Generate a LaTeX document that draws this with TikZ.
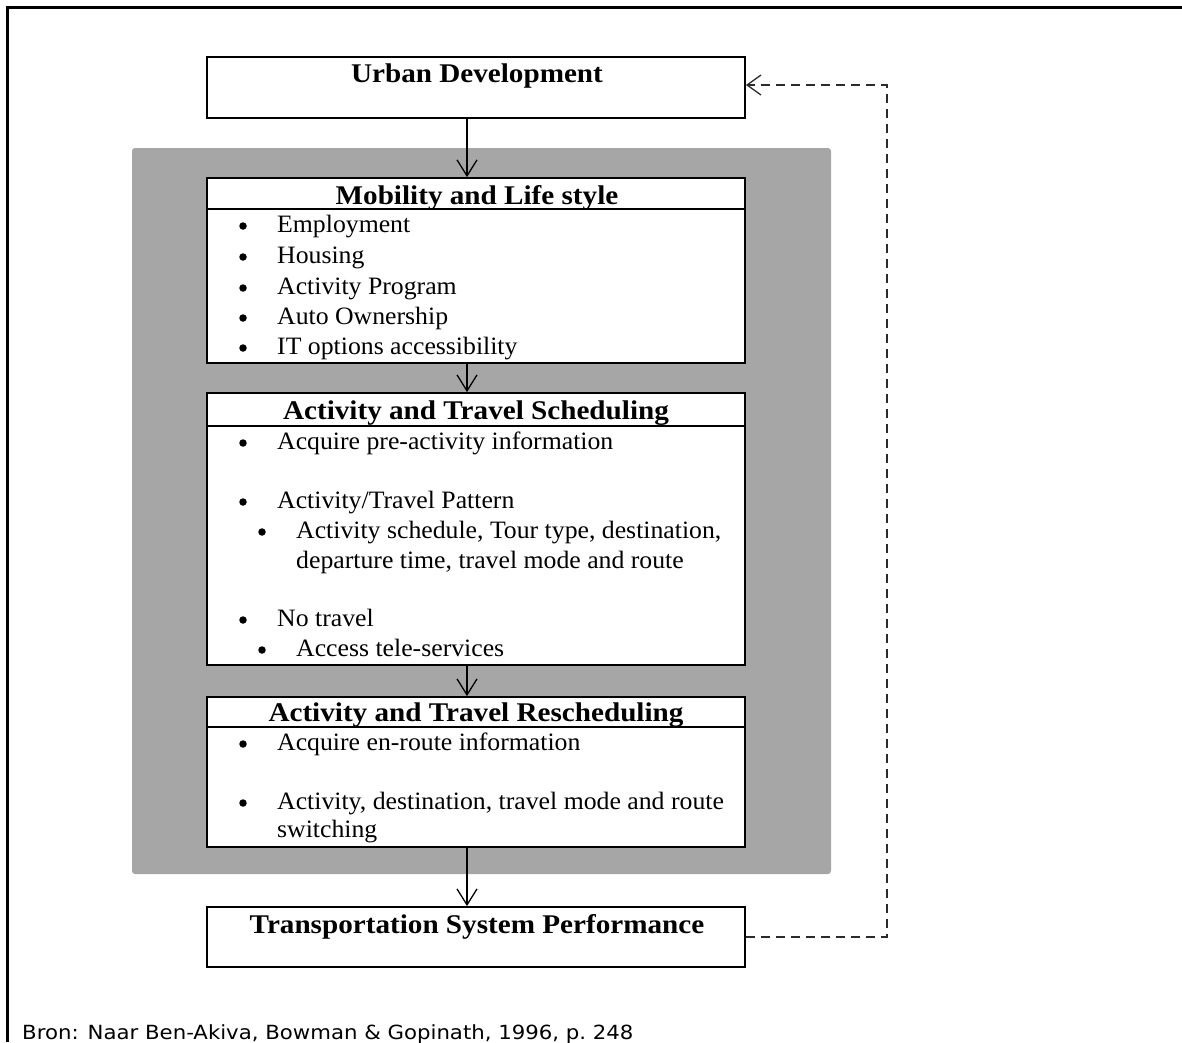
\documentclass[tikz,border=0pt]{standalone}
\usepackage{fontspec}
\setmainfont{Liberation Serif}
\newfontfamily\headfont[FakeStretch=1.08]{Liberation Serif}
\newfontfamily\bodyfont[FakeStretch=1.03]{Liberation Serif}
\newfontfamily\capfont[FakeStretch=1.09]{DejaVu Sans}
\usetikzlibrary{arrows.meta,calc}
\definecolor{panelgray}{HTML}{A6A6A6}
\definecolor{dashgray}{HTML}{2B2B2B}
\begin{document}
\begin{tikzpicture}[x=1pt,y=-1pt,
  box/.style={draw=black, line width=1.8pt, fill=white, inner sep=0pt, minimum width=538pt},
  title/.style={anchor=base, font=\headfont\fontsize{27}{27}\selectfont\bfseries, inner sep=0pt},
  item/.style={anchor=base west, font=\bodyfont\fontsize{25}{25}\selectfont, inner sep=0pt},
  dot/.style={circle, fill=black, inner sep=0pt, minimum size=7.5pt},
  flow/.style={line width=1.3pt, -{Straight Barb[length=16pt,width=20pt,line width=1.3pt]}},
  feedback/.style={line width=1.7pt, draw=dashgray, dash pattern=on 9pt off 6pt,
    -{Straight Barb[length=14pt,width=20pt,line width=1.3pt]}}
]
\useasboundingbox (0,0) rectangle (1182,1042);

% frame edges
\draw[line width=3pt] (7,1042) -- (7,7) -- (1182,7);

% grey panel holding the three stages
\fill[panelgray, rounded corners=3pt] (132,148) rectangle (831,874);

% boxes
\node[box, minimum height=61pt]  (urban)  at (476,87.5) {};
\node[box, minimum height=185pt] (mob)    at (476,270.5) {};
\node[box, minimum height=272pt] (sched)  at (476,529) {};
\node[box, minimum height=150pt] (resched) at (476,772) {};
\node[box, minimum height=60pt]  (transp) at (476,937) {};

% header rules
\draw[line width=1.8pt] ($(mob.north west)+(0,32)$) -- ($(mob.north east)+(0,32)$);
\draw[line width=1.8pt] ($(sched.north west)+(0,34)$) -- ($(sched.north east)+(0,34)$);
\draw[line width=1.8pt] ($(resched.north west)+(0,31)$) -- ($(resched.north east)+(0,31)$);

% titles
\node[title] (urbanT)   at (477,82)  {Urban Development};
\node[title] (mobT)     at (477,204) {Mobility and Life style};
\node[title] (schedT)   at (476,419) {Activity and Travel Scheduling};
\node[title] (reschedT) at (476,721) {Activity and Travel Rescheduling};
\node[title] (transpT)  at (477,933) {Transportation System Performance};

% Mobility and Life style items
\node[dot] (m1d) at (243,226) {}; \node[item] (m1) at (277,232) {Employment};
\node[dot] (m2d) at (243,257) {}; \node[item] (m2) at (277,263) {Housing};
\node[dot] (m3d) at (243,288) {}; \node[item] (m3) at (277,294) {Activity Program};
\node[dot] (m4d) at (243,318) {}; \node[item] (m4) at (277,324) {Auto Ownership};
\node[dot] (m5d) at (243,348) {}; \node[item] (m5) at (277,354) {IT options accessibility};

% Scheduling items
\node[dot] (s1d) at (243,443) {}; \node[item] (s1) at (277,449) {Acquire pre-activity information};
\node[dot] (s2d) at (243,502) {}; \node[item] (s2) at (277,508) {Activity/Travel Pattern};
\node[dot] (s3d) at (262,532) {}; \node[item] (s3) at (296,538) {Activity schedule, Tour type, destination,};
\node[item] (s3b) at (296,568) {departure time, travel mode and route};
\node[dot] (s4d) at (243,620) {}; \node[item] (s4) at (277,626) {No travel};
\node[dot] (s5d) at (262,650) {}; \node[item] (s5) at (296,656) {Access tele-services};

% Rescheduling items
\node[dot] (r1d) at (243,744) {}; \node[item] (r1) at (277,750) {Acquire en-route information};
\node[dot] (r2d) at (243,803) {}; \node[item] (r2) at (277,809) {Activity, destination, travel mode and route};
\node[item] (r2b) at (277,837) {switching};

% main flow
\draw[flow] ([xshift=-9pt]urban.south) -- ([xshift=-9pt]mob.north);
\draw[flow] ([xshift=-9pt]mob.south) -- ([xshift=-9pt]sched.north);
\draw[flow] ([xshift=-9pt]sched.south) -- ([xshift=-9pt]resched.north);
\draw[flow] ([xshift=-9pt]resched.south) -- ([xshift=-9pt]transp.north);

% feedback loop
\coordinate (fbBot) at (887,937);
\coordinate (fbTop) at (887,85);
\draw[feedback] (transp.east) -- (fbBot) -- (fbTop) -- (urban.east |- fbTop);

% source line
\node[anchor=base west, font=\capfont\fontsize{19.5}{19.5}\selectfont, inner sep=0pt] (src)
  at (22,1039) {Bron: Naar Ben-Akiva, Bowman \& Gopinath, 1996, p.~248};
\end{tikzpicture}
\end{document}
